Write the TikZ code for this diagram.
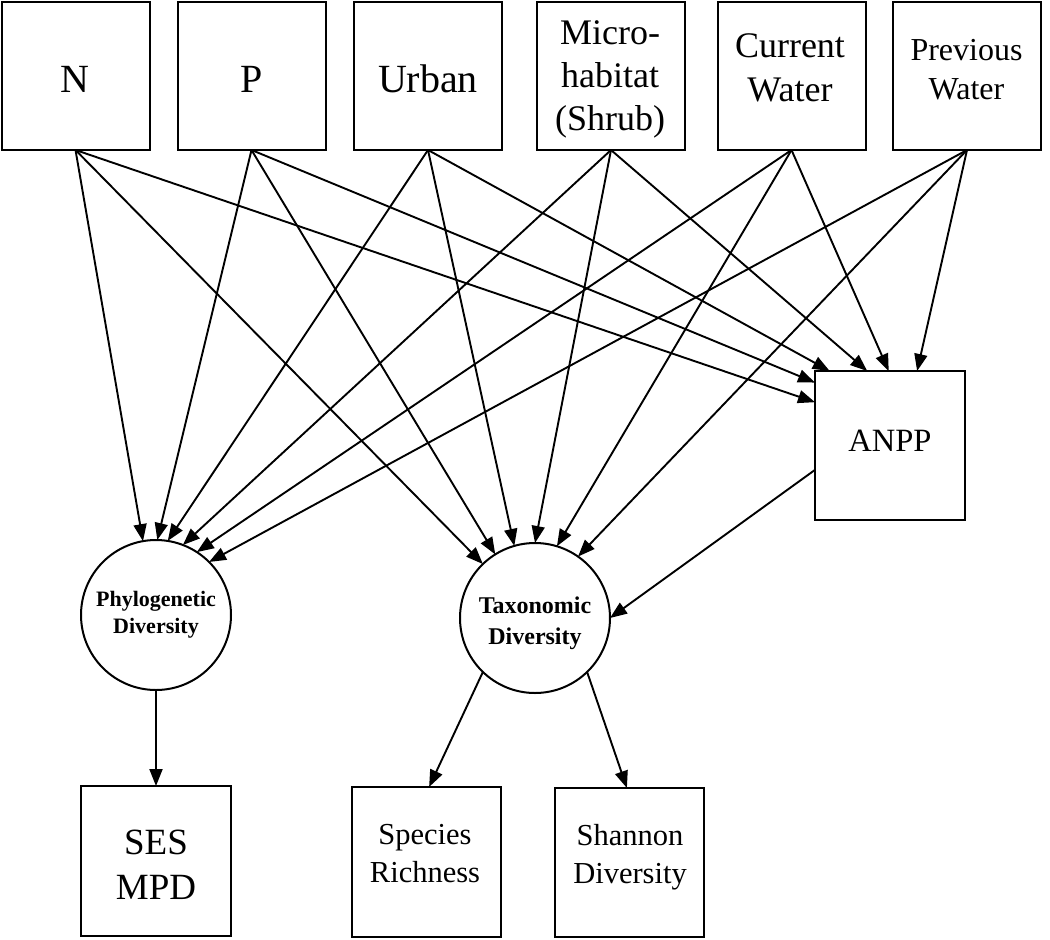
\documentclass[tikz,border=0pt]{standalone}
\usepackage{fontspec}
\setmainfont{Liberation Serif}
\usetikzlibrary{arrows.meta}
\begin{document}
\begin{tikzpicture}[x=1pt,y=-1pt,
  box/.style={draw,line width=2pt,inner sep=0pt,outer sep=0pt,minimum width=148pt,minimum height=148pt},
  circ/.style={draw,circle,line width=2pt,inner sep=0pt,outer sep=0pt,minimum size=150pt},
  lbl/.style={align=center,inner sep=0pt},
  arr/.style={-{Triangle[length=17pt,width=13pt]},line width=1.9pt}]
\useasboundingbox (0,0) rectangle (1050,940);
% top boxes
\node[box] (N)  at (75.5,76) {};
\node[box] (P)  at (251.5,76) {};
\node[box] (U)  at (428,76) {};
\node[box] (M)  at (611,76) {};
\node[box] (CW) at (791.5,76) {};
\node[box] (PW) at (967,76) {};
\node[box,minimum width=150pt,minimum height=149pt] (ANPP) at (890,445.5) {};
\node[circ] (PD) at (156,615) {};
\node[circ] (TD) at (535,618) {};
\node[box,minimum width=150pt,minimum height=150pt] (SES) at (156,861) {};
\node[box,minimum width=149pt,minimum height=150pt] (SR) at (426.5,862) {};
\node[box,minimum width=149pt,minimum height=149pt] (SD) at (629.5,862.5) {};
% texts
\node[lbl,font=\fontsize{40}{48}\selectfont] (Nt) at (75,79) {N};
\node[lbl,font=\fontsize{40}{48}\selectfont] (Pt) at (251.5,79) {P};
\node[lbl,font=\fontsize{40}{48}\selectfont] (Ut) at (428,79) {Urban};
\node[lbl,font=\fontsize{36}{43}\selectfont] (Mt) at (610,79.6) {Micro-\\habitat\\(Shrub)};
\node[lbl,font=\fontsize{36}{44}\selectfont] (CWt) at (790,68) {Current\\Water};
\node[lbl,font=\fontsize{32}{39}\selectfont] (PWt) at (966.5,69.5) {Previous\\Water};
\node[lbl,font=\fontsize{32.5}{39}\selectfont] (ANPPt) at (890,440.5) {ANPP};
\node[lbl,font=\fontsize{22}{27}\selectfont\bfseries] (PDt) at (156,615) {Phylogenetic\\Diversity};
\node[lbl,font=\fontsize{24}{31}\selectfont\bfseries] (TDt) at (535,623.5) {Taxonomic\\Diversity};
\node[lbl,font=\fontsize{37}{45}\selectfont] (SESt) at (156,865) {SES\\MPD};
\node[lbl,font=\fontsize{30.5}{38}\selectfont] (SRt) at (425,853.5) {Species\\Richness};
\node[lbl,font=\fontsize{30.5}{38}\selectfont] (SDt) at (630,857) {Shannon\\Diversity};
% edges
\draw[arr] (N.south) -- (PD.100);
\draw[arr] (N.south) -- (TD.134);
\draw[arr] (N.south) -- (ANPP.150.5);
\draw[arr] (P.south) -- (PD.89);
\draw[arr] (P.south) -- (TD.122);
\draw[arr] (P.south) -- (ANPP.140.2);
\draw[arr] (U.south) -- (PD.81);
\draw[arr] (U.south) -- (TD.106);
\draw[arr] (U.south) -- (ANPP.129.8);
\draw[arr] (M.south) -- (PD.69);
\draw[arr] (M.south) -- (TD.90);
\draw[arr] (M.south) -- (ANPP.107.2);
\draw[arr] (CW.south) -- (PD.57);
\draw[arr] (CW.south) -- (TD.73);
\draw[arr] (CW.south) -- (ANPP.91.5);
\draw[arr] (PW.south) -- (PD.45);
\draw[arr] (PW.south) -- (TD.55);
\draw[arr] (PW.south) -- (ANPP.70);
\draw[arr] (ANPP.198) -- (TD.0);
\draw[arr] (PD.south) -- (SES.north);
\draw[arr] (TD.226) -- (SR.88);
\draw[arr] (TD.314) -- (SD.92);
\end{tikzpicture}
\end{document}
